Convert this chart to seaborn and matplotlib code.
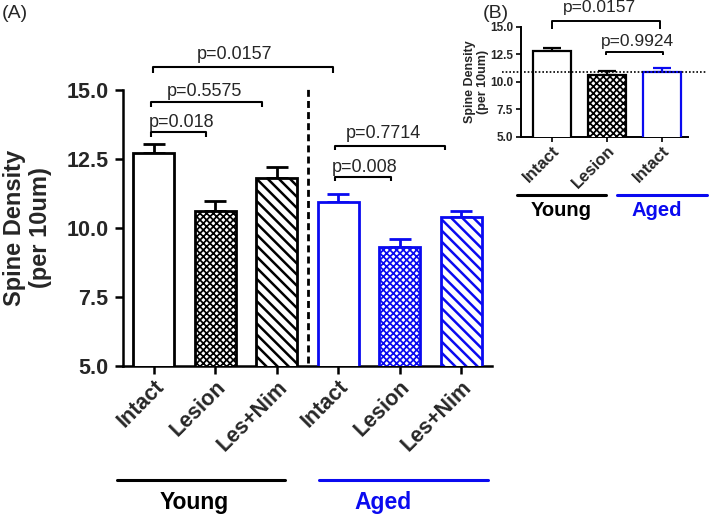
import numpy as np
import pandas as pd
import matplotlib
matplotlib.use('Agg')
import matplotlib.pyplot as plt
from matplotlib.lines import Line2D
import seaborn as sns

# data
conditions = ['Intact', 'Lesion', 'Les+Nim', 'Intact', 'Lesion', 'Les+Nim']
age_group = ['Young', 'Young', 'Young', 'Aged', 'Aged', 'Aged']
density_mean = [12.72, 10.62, 11.82, 10.95, 9.30, 10.40]
density_sem = [0.32, 0.36, 0.38, 0.30, 0.30, 0.22]

inset_conditions = ['Intact', 'Lesion', 'Intact']
inset_group = ['Young', 'Young', 'Aged']
inset_mean = [12.78, 10.65, 10.95]
inset_sem = [0.28, 0.32, 0.32]
inset_ref = 10.9

BLUE = '#0a0af0'
hatches = ['', 'xxxxx', '\\\\\\']
group_colors = {'Young': 'black', 'Aged': BLUE}

sns.set_style('ticks')
plt.rcParams['font.family'] = ['Liberation Sans', 'DejaVu Sans']
plt.rcParams['hatch.linewidth'] = 1.2

W, H = 709, 520
fig = plt.figure(figsize=(W / 100, H / 100), dpi=100)


def fx(px):
    return px / W


def fy(py):
    return 1 - py / H


def draw_bars(ax, conds, groups, means, sems, width, lw, capsize, pattern):
    df = pd.DataFrame({'key': [f'{g}-{c}-{i}' for i, (g, c) in enumerate(zip(groups, conds))],
                       'density': means})
    sns.barplot(data=df, x='key', y='density', color='white', width=width,
                errorbar=None, ax=ax, zorder=3)
    hatch_lw = {'xxxxx': 1.25, '\\\\\\': 1.8}
    for i, p in enumerate(ax.patches):
        col = group_colors[groups[i]]
        p.set_facecolor('white')
        p.set_edgecolor(col)
        p.set_linewidth(lw)
        h = hatches[pattern[i]]
        p.set_hatch(h)
        if h and hasattr(p, 'set_hatch_linewidth'):
            p.set_hatch_linewidth(hatch_lw[h])
        ax.errorbar(i, means[i], yerr=[[0], [sems[i]]], fmt='none', ecolor=col,
                    elinewidth=lw, capsize=capsize, capthick=lw, zorder=2)


def bracket(ax, x0, x1, y, y_end, text, tx, ty, fs, lw):
    ax.plot([x0, x0, x1, x1], [y_end, y, y, y_end], color='black', lw=lw,
            clip_on=False, solid_capstyle='butt')
    ax.text(tx, ty, text, ha='center', va='center', fontsize=fs, clip_on=False)


def style_axes(ax, lw):
    for s in ['top', 'right']:
        ax.spines[s].set_visible(False)
    for s in ['left', 'bottom']:
        ax.spines[s].set_linewidth(lw)
        ax.spines[s].set_color('black')


# ---------------- panel A ----------------
ax = fig.add_axes([fx(123), fy(366), fx(492 - 123), (366 - 90) / H])
draw_bars(ax, conditions, age_group, density_mean, density_sem, 0.67, 2.0, 8,
          [0, 1, 2, 0, 1, 2])
ax.set_xlim(-0.5, 5.5)
ax.set_ylim(5, 15)
ax.set_yticks([5, 7.5, 10, 12.5, 15])
ax.set_yticklabels(['5.0', '7.5', '10.0', '12.5', '15.0'], fontsize=15.5, fontweight='bold')
ax.set_xticks(range(6))
ax.set_xticklabels(conditions, rotation=45, ha='right', va='top',
                   rotation_mode='anchor', fontsize=15.5, fontweight='bold')
ax.tick_params(axis='both', width=1.8, length=5.5, color='black')
ax.tick_params(axis='y', pad=5)
ax.tick_params(axis='x', pad=2)
ax.set_xlabel('')
ax.set_ylabel('Spine Density\n(per 10um)', fontsize=17, fontweight='bold',
              linespacing=1.2, labelpad=10)
style_axes(ax, 1.8)
ax.plot([2.5, 2.5], [5.1, 15.07], color='black', lw=2, ls=(0, (2.5, 1.5)),
        clip_on=False, zorder=4)

bracket(ax, -0.05, 0.85, 13.48, 13.30, 'p=0.018', 0.46, 13.84, 13, 1.5)
bracket(ax, -0.05, 1.76, 14.57, 14.38, 'p=0.5575', 0.83, 14.96, 13, 1.5)
bracket(ax, -0.02, 2.92, 15.83, 15.62, 'p=0.0157', 1.31, 16.30, 13, 1.5)
bracket(ax, 2.94, 3.86, 11.85, 11.70, 'p=0.008', 3.43, 12.21, 13, 1.5)
bracket(ax, 2.94, 4.74, 12.97, 12.83, 'p=0.7714', 3.73, 13.44, 13, 1.5)

fig.add_artist(Line2D([fx(117), fx(285)], [fy(480), fy(480)], color='black', lw=2.2))
fig.add_artist(Line2D([fx(319), fx(488)], [fy(480), fy(480)], color=BLUE, lw=2.2))
fig.text(fx(194), fy(502), 'Young', ha='center', va='center', fontsize=16.5,
         fontweight='bold', color='black')
fig.text(fx(383), fy(502), 'Aged', ha='center', va='center', fontsize=16.5,
         fontweight='bold', color=BLUE)
fig.text(fx(2), fy(14), '(A)', ha='left', va='center', fontsize=14)

# ---------------- panel B ----------------
axb = fig.add_axes([fx(521), fy(137), fx(688 - 521), 110 / H])
draw_bars(axb, inset_conditions, inset_group, inset_mean, inset_sem, 0.7, 1.6, 6.5,
          [0, 1, 0])
axb.set_xlim(-0.56, 2.47)
axb.set_ylim(5, 15)
axb.set_yticks([5, 7.5, 10, 12.5, 15])
axb.set_yticklabels(['5.0', '7.5', '10.0', '12.5', '15.0'], fontsize=8.5, fontweight='bold')
axb.set_xticks(range(3))
axb.set_xticklabels(inset_conditions, rotation=45, ha='right', va='top',
                    rotation_mode='anchor', fontsize=12, fontweight='bold')
axb.tick_params(axis='both', width=1.2, length=3.5, pad=2, color='black')
axb.tick_params(axis='x', pad=1)
axb.set_xlabel('')
axb.set_ylabel('Spine Density\n(per 10um)', fontsize=9, fontweight='bold',
               linespacing=1.1, labelpad=1)
style_axes(axb, 1.4)
axb.plot([-0.9, 2.8], [inset_ref, inset_ref], color='black', lw=1.2,
         ls=(0, (1, 1.2)), clip_on=False, zorder=5)

bracket(axb, 0.0, 1.96, 15.55, 14.82, 'p=0.0157', 0.87, 16.73, 12.5, 1.4)
bracket(axb, 0.98, 2.02, 12.73, 12.45, 'p=0.9924', 1.56, 13.64, 12.5, 1.4)

fig.add_artist(Line2D([fx(517), fx(606)], [fy(195), fy(195)], color='black', lw=2.2))
fig.add_artist(Line2D([fx(617), fx(707)], [fy(195), fy(195)], color=BLUE, lw=2.2))
fig.text(fx(561), fy(210), 'Young', ha='center', va='center', fontsize=14.5,
         fontweight='bold', color='black')
fig.text(fx(657), fy(210), 'Aged', ha='center', va='center', fontsize=14.5,
         fontweight='bold', color=BLUE)
fig.text(fx(483), fy(14), '(B)', ha='left', va='center', fontsize=14)

fig.savefig('out.png', dpi=100)
